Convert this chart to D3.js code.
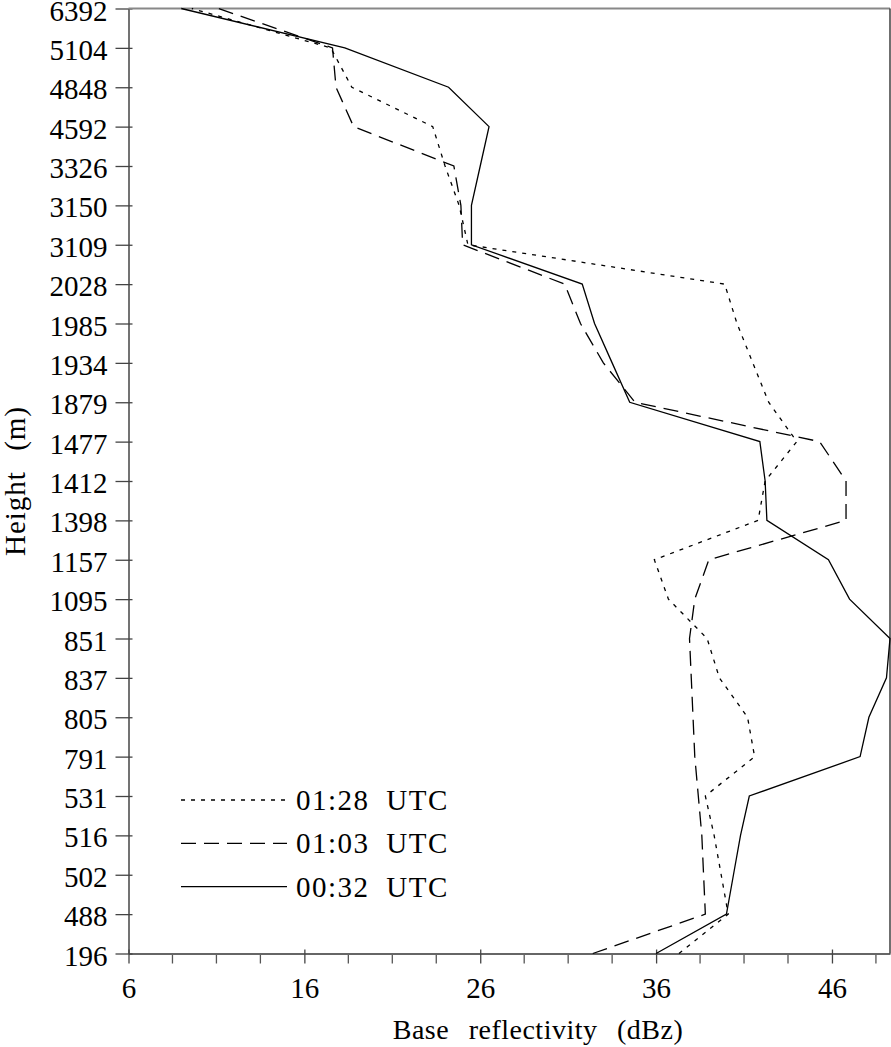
<!DOCTYPE html>
<html>
<head>
<meta charset="utf-8">
<script src="https://cdn.jsdelivr.net/npm/d3@7"></script>
<style>
  body { margin: 0; background: #fff; }
  svg text { font-family: "Liberation Serif", "DejaVu Serif", "Noto Serif", serif !important; fill: #000; }
</style>
</head>
<body>
<div id="chart"></div>
<script>
// heights (m), bottom to top
const heights = ["196", "488", "502", "516", "531", "791", "805", "837", "851", "1095",
  "1157", "1398", "1412", "1477", "1879", "1934", "1985", "2028", "3109", "3150",
  "3326", "4592", "4848", "5104", "6392"];

// base reflectivity (dBz) for each height
const utc0128 = [37.3, 40.1, 39.7, 39.3, 38.8, 41.6, 41.2, 39.6, 38.9, 36.7,
  35.9, 41.8, 42.2, 44.0, 42.4, 41.5, 40.6, 39.9, 25.3, 24.8,
  24.0, 23.3, 18.7, 17.5, 9.6];
const utc0103 = [32.4, 38.8, 38.7, 38.6, 38.4, 38.2, 38.1, 38.0, 37.9, 38.2,
  39.0, 46.8, 46.8, 45.3, 34.8, 33.0, 31.7, 30.8, 25.0, 24.9,
  24.5, 18.8, 17.8, 17.6, 11.1];
const utc0032 = [36.0, 40.0, 40.4, 40.8, 41.3, 47.6, 48.1, 49.1, 49.3, 47.0,
  45.8, 42.3, 42.2, 41.9, 34.5, 33.5, 32.5, 31.8, 25.5, 25.5,
  26.0, 26.5, 24.2, 18.3, 9.0];

const seriesNames = ["01:28 UTC", "01:03 UTC", "00:32 UTC"];
const xTicks = [6, 16, 26, 36, 46];
const xDomain = [6, 49.3];

let margin = { top: 8.5, left: 128.5, right: 1, bottom: 93.5 },
  width = 891 - margin.left - margin.right,
  height = 1047 - margin.top - margin.bottom;

const dashes = ["4,6", "15,8", null];
const serif = "'Liberation Serif', 'DejaVu Serif', serif";

let svg = d3.select("#chart")
  .append("svg")
    .attr("width", 891)
    .attr("height", 1047)
    .attr("font-family", serif);

let g = svg.append("g")
    .attr("transform", "translate(" + margin.left + "," + margin.top + ")");

// scales
let xScale = d3.scaleLinear().domain(xDomain).range([0, width]);
let yScale = d3.scalePoint().domain(heights.slice().reverse()).range([0, height]);

// minor ticks on x axis
let minor = d3.range(xDomain[0], xDomain[1], 2.5).filter(v => (v - 6) % 10 !== 0);
g.append("g")
    .attr("transform", "translate(0," + height + ")")
  .selectAll("line")
  .data(minor)
  .enter().append("line")
    .attr("x1", d => xScale(d)).attr("x2", d => xScale(d))
    .attr("y1", 0).attr("y2", 10)
    .attr("stroke", "#555").attr("stroke-width", 1.3);

// X axis
let xAxis = g.append("g")
    .attr("transform", "translate(0," + height + ")")
    .call(d3.axisBottom(xScale).tickValues(xTicks).tickSizeOuter(0).tickSizeInner(10).tickPadding(14));
xAxis.attr("font-family", serif);
xAxis.select(".domain").attr("stroke", "#666").attr("stroke-width", 2);
xAxis.selectAll(".tick line").attr("y1", -4).attr("stroke", "#444").attr("stroke-width", 1.3);
xAxis.selectAll(".tick text").style("font-size", "29px").attr("dy", "0.71em");

// Y axis
let yAxis = g.append("g")
    .call(d3.axisLeft(yScale).tickSizeOuter(0).tickSizeInner(13).tickPadding(8));
yAxis.attr("font-family", serif);
yAxis.select(".domain").attr("stroke", "#444").attr("stroke-width", 1.5);
yAxis.selectAll(".tick line").attr("x1", 4).attr("x2", -13).attr("stroke", "#444").attr("stroke-width", 1.3);
yAxis.selectAll(".tick text").style("font-size", "29px").attr("dy", "0.4em");

// top and right frame
g.append("line")
    .attr("x1", 0).attr("x2", width).attr("y1", 0).attr("y2", 0)
    .attr("stroke", "#888").attr("stroke-width", 1.8);
g.append("line")
    .attr("x1", width).attr("x2", width).attr("y1", 0).attr("y2", height)
    .attr("stroke", "#333").attr("stroke-width", 1.4);

// axis titles
svg.append("text")
    .attr("x", 538).attr("y", 1039)
    .attr("text-anchor", "middle")
    .style("font-size", "28px")
    .style("letter-spacing", "0.5px")
    .style("word-spacing", "12px")
    .text("Base reflectivity (dBz)");

svg.append("text")
    .attr("transform", "translate(25," + (margin.top + height / 2) + ") rotate(-90)")
    .attr("text-anchor", "middle")
    .style("font-size", "29px")
    .style("letter-spacing", "1px")
    .style("word-spacing", "12px")
    .text("Height (m)");

// lines
const line = d3.line()
  .x(d => xScale(d.v))
  .y(d => yScale(d.h));

const data = [utc0128, utc0103, utc0032].map((vals, i) => ({
  name: seriesNames[i],
  dash: dashes[i],
  values: heights.map((h, j) => ({ h: h, v: vals[j] }))
}));

g.selectAll(".series")
  .data(data)
  .enter().append("path")
    .attr("class", "series")
    .attr("fill", "none")
    .attr("stroke", "#000")
    .attr("stroke-width", 1.3)
    .attr("stroke-dasharray", d => d.dash)
    .attr("d", d => line(d.values));

// legend
let legend = svg.append("g")
  .selectAll("g")
  .data(data)
  .enter().append("g")
    .attr("transform", (d, i) => "translate(181," + (800 + i * 43.3) + ")");

legend.append("line")
    .attr("x1", 0).attr("x2", 106)
    .attr("stroke", "#000").attr("stroke-width", 1.3)
    .attr("stroke-dasharray", d => d.dash);

legend.append("text")
    .attr("x", 115).attr("dy", "0.35em")
    .style("font-size", "29px")
    .style("letter-spacing", "1.5px")
    .style("word-spacing", "8px")
    .text(d => d.name);
</script>
</body>
</html>
